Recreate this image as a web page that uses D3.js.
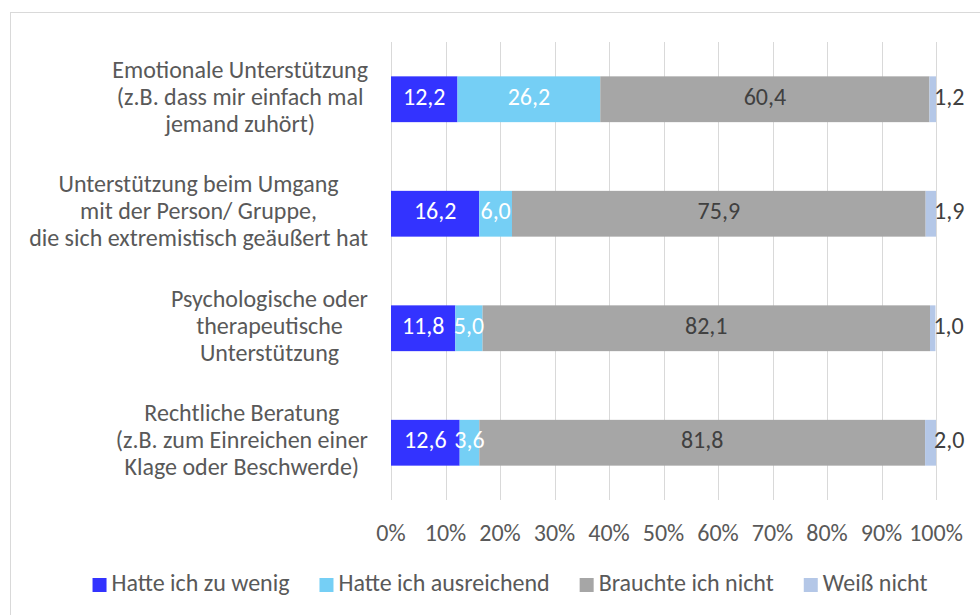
<!DOCTYPE html>
<html>
<head>
<meta charset="utf-8">
<script src="https://cdn.jsdelivr.net/npm/d3@7"></script>
<style>
  body { margin: 0; background: #fff; }
  text { font-family: Carlito, Calibri, "Liberation Sans", Arial, sans-serif; }
</style>
</head>
<body>
<div id="chart"></div>
<script>
// categories (each one a list of wrapped lines)
const categories = [
  ["Emotionale Unterstützung", "(z.B. dass mir einfach mal", "jemand zuhört)"],
  ["Unterstützung beim Umgang", "mit der Person/ Gruppe,", "die sich extremistisch geäußert hat"],
  ["Psychologische oder", "therapeutische", "Unterstützung"],
  ["Rechtliche Beratung", "(z.B. zum Einreichen einer", "Klage oder Beschwerde)"]
];
const seriesNames = ["Hatte ich zu wenig", "Hatte ich ausreichend", "Brauchte ich nicht", "Weiß nicht"];
const zuWenig      = [12.2, 16.2, 11.8, 12.6];
const ausreichend  = [26.2, 6.0, 5.0, 3.6];
const brauchteNicht = [60.4, 75.9, 82.1, 81.8];
const weissNicht   = [1.2, 1.9, 1.0, 2.0];
const xTicks = [0, 10, 20, 30, 40, 50, 60, 70, 80, 90, 100];

const colors = ["#3333ff", "#75cff5", "#a6a6a6", "#b4c7e7"];
const labelColors = ["#ffffff", "#ffffff", "#404040", "#404040"];

const width = 980, height = 615;
const margin = { top: 42, right: 44, bottom: 115, left: 391 };
const fontSize = 24;

const svg = d3.select("#chart").append("svg")
  .attr("width", width)
  .attr("height", height);

// outer frame (runs past the right and bottom edges)
svg.append("rect")
  .attr("x", 10.5).attr("y", 12.5)
  .attr("width", width + 20).attr("height", height + 20)
  .attr("fill", "#fff")
  .attr("stroke", "#d9d9d9");

const rows = categories.map((c, i) => ({
  lines: c,
  key: i,
  values: [zuWenig[i], ausreichend[i], brauchteNicht[i], weissNicht[i]]
}));

const x = d3.scaleLinear().domain([0, 100]).range([margin.left, width - margin.right]);
const y = d3.scaleBand()
  .domain(rows.map(d => d.key))
  .range([margin.top, height - margin.bottom])
  .paddingInner(0.6)
  .paddingOuter(0.3);

// gridlines
svg.append("g")
  .selectAll("line")
  .data(xTicks)
  .join("line")
  .attr("x1", d => Math.round(x(d)) + 0.5)
  .attr("x2", d => Math.round(x(d)) + 0.5)
  .attr("y1", margin.top)
  .attr("y2", height - margin.bottom)
  .attr("stroke", "#d9d9d9")
  .attr("stroke-width", 1);

// tick labels
svg.append("g")
  .selectAll("text")
  .data(xTicks)
  .join("text")
  .attr("x", d => x(d))
  .attr("y", height - margin.bottom + 35)
  .attr("text-anchor", "middle")
  .attr("dominant-baseline", "middle")
  .attr("fill", "#595959")
  .attr("font-size", fontSize)
  .text(d => d + "%");

// stacked segments
const segs = [];
rows.forEach(r => {
  let acc = 0;
  r.values.forEach((v, s) => {
    segs.push({ key: r.key, s: s, x0: acc, x1: acc + v, v: v });
    acc += v;
  });
});

const bars = svg.append("g");
bars.selectAll("rect")
  .data(segs)
  .join("rect")
  .attr("x", d => x(d.x0))
  .attr("width", d => x(d.x1) - x(d.x0))
  .attr("y", d => y(d.key))
  .attr("height", y.bandwidth())
  .attr("fill", d => colors[d.s]);

// data labels
const fmt = v => v.toFixed(1).replace(".", ",");
bars.selectAll("text")
  .data(segs)
  .join("text")
  .attr("x", d => d.s === 3 ? x(d.x1) - 2 : (x(d.x0) + x(d.x1)) / 2)
  .attr("y", d => y(d.key) + y.bandwidth() / 2)
  .attr("text-anchor", d => d.s === 3 ? "start" : "middle")
  .attr("dominant-baseline", "middle")
  .attr("fill", d => labelColors[d.s])
  .attr("font-size", fontSize)
  .text(d => fmt(d.v));

// category labels (centered block, right-aligned to the plot)
const lineH = 27;
const catG = svg.append("g");
rows.forEach(r => {
  const g = catG.append("g");
  const cy = y(r.key) + y.bandwidth() / 2;
  const texts = g.selectAll("text")
    .data(r.lines)
    .join("text")
    .attr("y", (d, i) => cy + (i - (r.lines.length - 1) / 2) * lineH)
    .attr("text-anchor", "middle")
    .attr("dominant-baseline", "middle")
    .attr("fill", "#595959")
    .attr("font-size", fontSize)
    .text(d => d);
  let maxW = 0;
  texts.each(function () { maxW = Math.max(maxW, this.getComputedTextLength()); });
  texts.attr("x", margin.left - 23 - maxW / 2);
});

// legend
const legend = svg.append("g");
const items = legend.selectAll("g")
  .data(seriesNames)
  .join("g");
items.append("rect")
  .attr("width", 14).attr("height", 14)
  .attr("y", -7)
  .attr("fill", (d, i) => colors[i]);
items.append("text")
  .attr("x", 19)
  .attr("dominant-baseline", "middle")
  .attr("fill", "#595959")
  .attr("font-size", fontSize)
  .text(d => d);

let lx = 0;
const offsets = [];
items.each(function () {
  offsets.push(lx);
  const w = d3.select(this).select("text").node().getComputedTextLength();
  lx += 19 + w + 30;
});
const totalW = lx - 30;
const legendStart = 510 - totalW / 2;
items.attr("transform", (d, i) => `translate(${legendStart + offsets[i]},${585})`);
</script>
</body>
</html>
